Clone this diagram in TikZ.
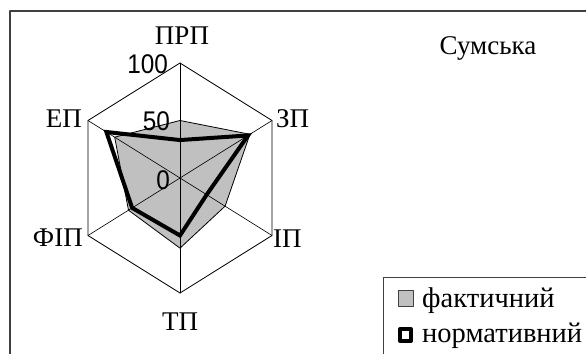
\documentclass[tikz,border=0pt]{standalone}
\usepackage{fontspec}
\setmainfont{Liberation Serif}
\newfontfamily\numfont[FakeStretch=0.9]{Liberation Sans}
\usepackage{tikz}
\usetikzlibrary{calc}

\definecolor{factgray}{RGB}{192,192,192}
\definecolor{framegray}{RGB}{64,64,64}

\tikzset{
  axislabel/.style={font=\fontsize{27}{30}\selectfont,inner sep=0pt},
  keylabel/.style={font=\fontsize{28.5}{30}\selectfont,inner sep=0pt,anchor=base west},
  ticklabel/.style={font=\numfont\fontsize{27}{28}\selectfont,inner sep=0pt,anchor=east},
  factfill/.style={fill=factgray,draw=black,line width=0.8pt},
  normline/.style={draw=black,line width=4pt,line join=miter},
  keyfact/.style={fill=factgray,draw=framegray,line width=0.8pt,minimum width=15pt,minimum height=16pt,inner sep=0pt},
  keynorm/.style={fill=white,draw=black,line width=4pt,minimum width=11pt,minimum height=12pt,inner sep=0pt}
}

\begin{document}
\begin{tikzpicture}[line cap=round,line join=round,x=1pt,y=1pt]
        \useasboundingbox (0,0) rectangle (586,354);
        % chart area frame
        \draw[framegray,line width=1.3pt,line cap=butt] (10,0) -- (10,343) -- (586,343);
        \begin{scope}[shift={(180,176)},xscale=0.9237]
          \coordinate (O) at (0,0);
          \foreach \ang [count=\i] in {90,30,-30,-90,-150,150}
          \coordinate (v\i) at (\ang:115);
          % fact values
          \foreach \ang/\val [count=\i] in {90/50,30/76,-30/49,-90/61,-150/56,150/71}
          \coordinate (f\i) at (\ang:{1.15*\val});
          % normative values
          \foreach \ang/\val [count=\i] in {90/33,30/74,-30/29,-90/50,-150/52,150/80}
          \coordinate (n\i) at (\ang:{1.15*\val});
          \filldraw[factfill] (f1) -- (f2) -- (f3) -- (f4) -- (f5) -- (f6) -- cycle;
          \draw[line width=0.8pt] (v1) -- (v2) -- (v3) -- (v4) -- (v5) -- (v6) -- cycle;
          \foreach \i/\j in {1/4,2/5,3/6}
          \draw[line width=0.6pt] (v\i) -- (v\j);
          \draw[normline] (n1) -- (n2) -- (n3) -- (n4) -- (n5) -- (n6) -- cycle;
        \end{scope}
        % scale
        \node[ticklabel] (t100) at (168,289.5) {100};
        \node[ticklabel] (t50) at (170,232.3) {50};
        \node[ticklabel] (t0) at (170,174) {0};
        % axes
        \node[axislabel,anchor=base] (prp) at (182,309) {ПРП};
        \node[axislabel,anchor=base west] (zp) at (276,226) {ЗП};
        \node[axislabel,anchor=base west] (ip) at (273,107) {ІП};
        \node[axislabel,anchor=base] (tp) at (180,24) {ТП};
        \node[axislabel,anchor=base east] (fip) at (83,108) {ФІП};
        \node[axislabel,anchor=base east] (ep) at (82,226) {ЕП};
        \node[axislabel,anchor=base] (title) at (488,299) {Сумська};
        % legend
        \draw[framegray,line width=1pt,line cap=butt] (383,0) -- (383,77) -- (586,77);
        \node[keyfact] (kfact) at (405.5,56) {};
        \node[keynorm] (knorm) at (405.5,19) {};
        \node[keylabel] (lfact) at (422,47) {фактичний};
        \node[keylabel] (lnorm) at (422,12) {нормативний};
\end{tikzpicture}
\end{document}
